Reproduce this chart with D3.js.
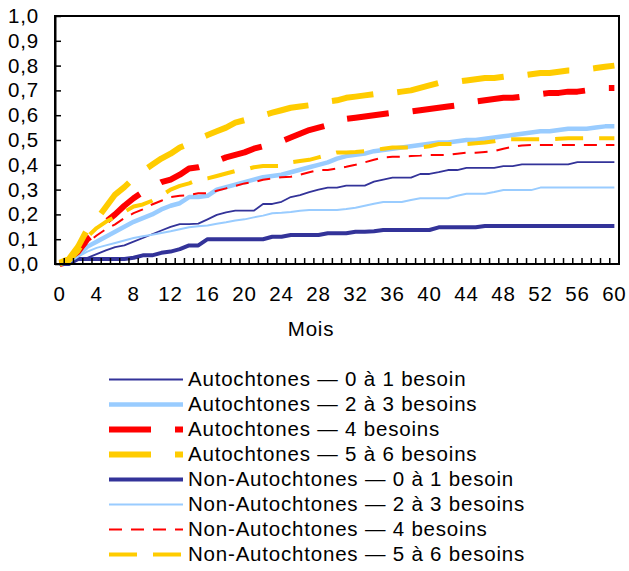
<!DOCTYPE html>
<html>
<head>
<meta charset="utf-8">
<script src="https://cdn.jsdelivr.net/npm/d3@7"></script>
<style>
  body { margin: 0; background: #fff; }
  text { font-family: "Liberation Sans", Arial, sans-serif; fill: #000; }
</style>
</head>
<body>
<svg id="chart" width="629" height="571"></svg>
<script>

// months 0..60
var months = d3.range(0, 61);

var yTicks = [0, 0.1, 0.2, 0.3, 0.4, 0.5, 0.6, 0.7, 0.8, 0.9, 1.0];
var xTickLabels = [0, 4, 8, 12, 16, 20, 24, 28, 32, 36, 40, 44, 48, 52, 56, 60];

var autoch_0_1 = [0, 0.005, 0.02, 0.025, 0.04, 0.055, 0.068, 0.075, 0.09, 0.105, 0.12, 0.135, 0.15, 0.161, 0.161, 0.163,
  0.18, 0.198, 0.208, 0.215, 0.215, 0.215, 0.242, 0.242, 0.251, 0.27, 0.278, 0.29, 0.3, 0.308, 0.308,
  0.316, 0.316, 0.316, 0.332, 0.34, 0.348, 0.348, 0.348, 0.363, 0.363, 0.37, 0.379, 0.379, 0.388, 0.388,
  0.388, 0.388, 0.395, 0.395, 0.402, 0.402, 0.402, 0.402, 0.402, 0.402, 0.411, 0.411, 0.411, 0.411, 0.411];

var autoch_2_3 = [0, 0.005, 0.035, 0.07, 0.09, 0.11, 0.13, 0.15, 0.17, 0.185, 0.2, 0.22, 0.235, 0.245, 0.27, 0.27,
  0.275, 0.3, 0.31, 0.32, 0.33, 0.34, 0.35, 0.355, 0.36, 0.37, 0.38, 0.39, 0.4, 0.41, 0.425,
  0.435, 0.44, 0.445, 0.455, 0.46, 0.465, 0.47, 0.475, 0.48, 0.485, 0.49, 0.49, 0.495, 0.5, 0.5,
  0.505, 0.51, 0.515, 0.52, 0.525, 0.53, 0.535, 0.535, 0.54, 0.545, 0.545, 0.545, 0.55, 0.555, 0.555];

var autoch_4 = [0, 0.01, 0.05, 0.1, 0.13, 0.17, 0.2, 0.235, 0.265, 0.29, 0.31, 0.33, 0.34, 0.36, 0.385, 0.39,
  0.4, 0.415, 0.43, 0.44, 0.45, 0.465, 0.475, 0.48, 0.495, 0.51, 0.525, 0.54, 0.55, 0.56, 0.575,
  0.585, 0.59, 0.595, 0.6, 0.605, 0.61, 0.61, 0.615, 0.62, 0.625, 0.63, 0.635, 0.64, 0.645, 0.655,
  0.66, 0.665, 0.67, 0.67, 0.675, 0.68, 0.685, 0.69, 0.69, 0.695, 0.695, 0.7, 0.705, 0.71, 0.71];

var autoch_5_6 = [0.005, 0.02, 0.07, 0.14, 0.18, 0.23, 0.28, 0.31, 0.345, 0.375, 0.4, 0.425, 0.445, 0.47, 0.485, 0.505,
  0.52, 0.535, 0.55, 0.57, 0.58, 0.59, 0.6, 0.61, 0.62, 0.63, 0.635, 0.64, 0.645, 0.655, 0.66,
  0.67, 0.675, 0.68, 0.685, 0.69, 0.69, 0.695, 0.7, 0.71, 0.72, 0.73, 0.735, 0.735, 0.74, 0.745,
  0.75, 0.75, 0.755, 0.76, 0.76, 0.765, 0.77, 0.77, 0.775, 0.78, 0.78, 0.785, 0.79, 0.795, 0.8];

var nonAutoch_0_1 = [0, 0, 0.02, 0.02, 0.02, 0.02, 0.02, 0.02, 0.025, 0.035, 0.035, 0.045, 0.05, 0.06, 0.075, 0.075,
  0.1, 0.1, 0.1, 0.1, 0.1, 0.1, 0.1, 0.11, 0.11, 0.117, 0.117, 0.117, 0.117, 0.124, 0.124,
  0.124, 0.13, 0.13, 0.132, 0.137, 0.137, 0.137, 0.137, 0.137, 0.137, 0.148, 0.148, 0.148, 0.148, 0.148,
  0.153, 0.153, 0.153, 0.153, 0.153, 0.153, 0.153, 0.153, 0.153, 0.153, 0.153, 0.153, 0.153, 0.153, 0.153];

var nonAutoch_2_3 = [0, 0.005, 0.03, 0.05, 0.065, 0.075, 0.085, 0.095, 0.105, 0.112, 0.118, 0.125, 0.132, 0.14, 0.148, 0.152,
  0.155, 0.162, 0.168, 0.175, 0.18, 0.188, 0.195, 0.205, 0.207, 0.21, 0.215, 0.218, 0.218, 0.218, 0.218,
  0.222, 0.227, 0.235, 0.243, 0.25, 0.25, 0.25, 0.258, 0.265, 0.265, 0.265, 0.265, 0.275, 0.283, 0.283,
  0.283, 0.29, 0.298, 0.298, 0.298, 0.298, 0.308, 0.308, 0.308, 0.308, 0.308, 0.308, 0.308, 0.308, 0.308];

var nonAutoch_4 = [0, 0.01, 0.045, 0.085, 0.115, 0.14, 0.16, 0.185, 0.205, 0.22, 0.24, 0.255, 0.27, 0.275, 0.278, 0.285,
  0.285, 0.295, 0.305, 0.315, 0.325, 0.33, 0.34, 0.345, 0.35, 0.352, 0.36, 0.37, 0.379, 0.379, 0.385,
  0.392, 0.4, 0.41, 0.42, 0.43, 0.432, 0.433, 0.435, 0.437, 0.44, 0.44, 0.44, 0.445, 0.449, 0.449,
  0.452, 0.455, 0.465, 0.473, 0.478, 0.48, 0.48, 0.48, 0.48, 0.48, 0.48, 0.48, 0.48, 0.48, 0.48];

var nonAutoch_5_6 = [0, 0.01, 0.05, 0.11, 0.145, 0.17, 0.19, 0.21, 0.232, 0.24, 0.255, 0.275, 0.3, 0.315, 0.325, 0.34,
  0.345, 0.355, 0.365, 0.375, 0.38, 0.39, 0.395, 0.395, 0.395, 0.41, 0.415, 0.42, 0.43, 0.44, 0.45,
  0.45, 0.452, 0.455, 0.46, 0.465, 0.47, 0.47, 0.47, 0.47, 0.475, 0.484, 0.484, 0.484, 0.484, 0.487,
  0.49, 0.495, 0.503, 0.503, 0.503, 0.503, 0.503, 0.503, 0.505, 0.507, 0.507, 0.507, 0.507, 0.507, 0.507];

var seriesNames = [
  "Autochtones \u2014 0 à 1 besoin",
  "Autochtones \u2014 2 à 3 besoins",
  "Autochtones \u2014 4 besoins",
  "Autochtones \u2014 5 à 6 besoins",
  "Non-Autochtones \u2014 0 à 1 besoin",
  "Non-Autochtones \u2014 2 à 3 besoins",
  "Non-Autochtones \u2014 4 besoins",
  "Non-Autochtones \u2014 5 à 6 besoins"
];
var seriesValues = [autoch_0_1, autoch_2_3, autoch_4, autoch_5_6,
                    nonAutoch_0_1, nonAutoch_2_3, nonAutoch_4, nonAutoch_5_6];

// line styles: colour, width, dash
var styles = [
  {color: "#333399", width: 1.8, dash: null},
  {color: "#99CCFF", width: 4.5, dash: null},
  {color: "#FF0000", width: 6, dash: "42,24"},
  {color: "#FFCC00", width: 6, dash: "42,24"},
  {color: "#333399", width: 4, dash: null},
  {color: "#99CCFF", width: 2, dash: null},
  {color: "#FF0000", width: 2, dash: "13,9"},
  {color: "#FFCC00", width: 4, dash: "28,16"}
];

var plot = {left: 55, right: 619, top: 16, bottom: 264};
var fontSize = "20.5px", letterSp = "0.8px";

var svg = d3.select("#chart");

var x = d3.scalePoint()
          .domain(months)
          .range([plot.left, plot.right])
          .padding(0.5);

var y = d3.scaleLinear()
          .domain([0, 1])
          .range([plot.bottom, plot.top]);

var step = x.step();

// lines
var valueline = d3.line()
                  .x(function(d, i) { return x(months[i]); })
                  .y(function(d) { return y(d); });

seriesValues.forEach(function(vals, i){
  svg.append("path")
     .datum(vals)
     .attr("fill", "none")
     .attr("stroke", styles[i].color)
     .attr("stroke-width", styles[i].width)
     .attr("stroke-dasharray", styles[i].dash)
     .attr("stroke-linejoin", "round")
     .attr("d", valueline);
});

// frame
svg.append("rect")
   .attr("x", plot.left)
   .attr("y", plot.top)
   .attr("width", plot.right - plot.left)
   .attr("height", plot.bottom - plot.top)
   .attr("fill", "none")
   .attr("stroke", "#000")
   .attr("stroke-width", 2);

// y axis, ticks inside
var yAxis = d3.axisLeft(y)
              .tickValues(yTicks)
              .tickSizeInner(-6)
              .tickSizeOuter(0)
              .tickFormat(function(d) { return d3.format(".1f")(d).replace(".", ","); });

var gy = svg.append("g")
            .attr("transform", "translate(" + plot.left + ",0)")
            .call(yAxis);
gy.select(".domain").attr("stroke-width", 2);
gy.selectAll(".tick line").attr("stroke-width", 1.5);
gy.selectAll(".tick text")
  .attr("x", -16)
  .style("font-size", fontSize)
  .style("letter-spacing", letterSp)
  .attr("fill", "#000");

// x axis: tick marks at every category boundary, inside
var boundaries = d3.range(0, 62);
svg.append("g")
   .selectAll("line")
   .data(boundaries)
   .enter().append("line")
   .attr("x1", function(d) { return plot.left + d * step; })
   .attr("x2", function(d) { return plot.left + d * step; })
   .attr("y1", plot.bottom)
   .attr("y2", plot.bottom - 6)
   .attr("stroke", "#000")
   .attr("stroke-width", 1.5);

svg.append("g")
   .selectAll("text")
   .data(xTickLabels)
   .enter().append("text")
   .attr("x", function(d) { return x(d); })
   .attr("y", 301)
   .attr("text-anchor", "middle")
   .style("font-size", fontSize)
   .style("letter-spacing", letterSp)
   .text(function(d) { return d; });

svg.append("text")
   .attr("x", 311)
   .attr("y", 336)
   .attr("text-anchor", "middle")
   .style("font-size", fontSize)
   .style("letter-spacing", letterSp)
   .text("Mois");

// legend
var legend = svg.append("g");
seriesNames.forEach(function(name, i){
  var ly = 386 + i * 25;
  legend.append("line")
        .attr("x1", 109)
        .attr("x2", 183)
        .attr("y1", ly - 6.5)
        .attr("y2", ly - 6.5)
        .attr("stroke", styles[i].color)
        .attr("stroke-width", styles[i].width)
        .attr("stroke-dasharray", styles[i].dash);
  legend.append("text")
        .attr("x", 188)
        .attr("y", ly)
        .style("font-size", fontSize)
        .style("letter-spacing", letterSp)
        .text(name);
});

</script>
</body>
</html>
